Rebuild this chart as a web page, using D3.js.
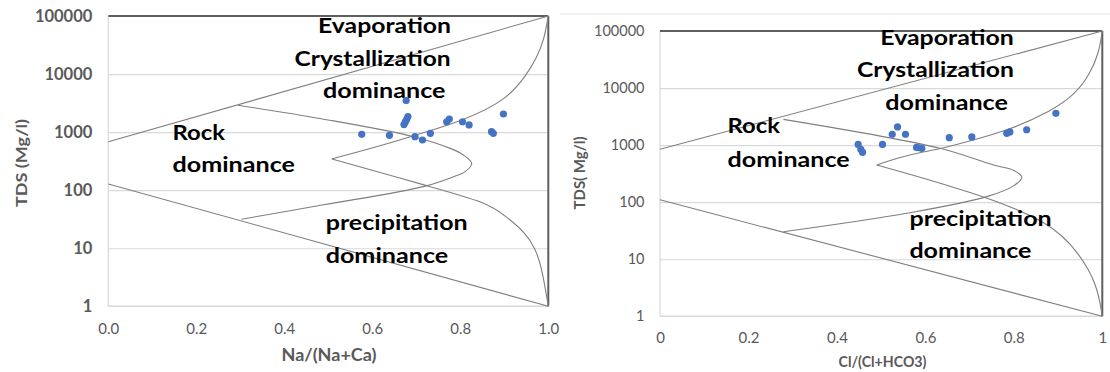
<!DOCTYPE html>
<html>
<head>
<meta charset="utf-8">
<script src="https://cdn.jsdelivr.net/npm/d3@7"></script>
<style>
  body { margin: 0; background: #fff; }
  svg { display: block; font-family: Lato, "Noto Sans", sans-serif; }
  .tick text { fill: #595959; }
  .zone { font-weight: bold; fill: #000; font-size: 21.5px; }
</style>
</head>
<body>
<script>
// gibbs plots, two panels side by side

var width = 1110;
var height = 372;

// shared tick values
var tdsTicks = [1, 10, 100, 1000, 10000, 100000];
var ratioTicks = [0, 0.2, 0.4, 0.6, 0.8, 1];
var ratioLabelsLeft = ['0.0', '0.2', '0.4', '0.6', '0.8', '1.0'];
var ratioLabelsRight = ['0', '0.2', '0.4', '0.6', '0.8', '1'];

// samples - cation panel
var naRatio = [0.576, 0.639, 0.677, 0.681, 0.678, 0.675, 0.672, 0.697, 0.714, 0.732, 0.769, 0.775, 0.805, 0.82, 0.871, 0.875, 0.898];
var naTds   = [917, 881, 3500, 1850, 1650, 1500, 1350, 834, 731, 955, 1510, 1680, 1510, 1330, 1016, 955, 2050];

// samples - anion panel
var clRatio = [0.448, 0.454, 0.458, 0.503, 0.525, 0.537, 0.555, 0.58, 0.586, 0.592, 0.654, 0.705, 0.784, 0.791, 0.829, 0.895];
var clTds   = [1030, 846, 748, 1030, 1550, 2080, 1550, 912, 900, 880, 1350, 1390, 1610, 1700, 1860, 3610];

// boundary lines, [ratio, tds]
var naUpperLine = [[0, 680], [1, 100000]];
var naLowerLine = [[0, 128], [1, 1]];
var naOuterTop = [[0.508, 345], [0.64, 645], [0.72, 1000], [0.808, 1600], [0.905, 3550], [0.952, 10000], [0.974, 19500], [0.99, 38000], [1, 100000]];
var naOuterBottom = [[0.508, 345], [0.731, 115], [0.86, 62], [0.905, 35], [0.95, 17.8], [0.97, 10], [0.985, 4.8], [1, 1]];
var naInner = [[0.295, 2900], [0.484, 1700], [0.694, 834], [0.777, 525], [0.807, 404], [0.826, 288], [0.811, 209], [0.784, 170], [0.716, 115], [0.489, 56], [0.303, 31.6]];

var clUpperLine = [[0, 845], [1, 100000]];
var clLowerLine = [[0, 110], [1, 1]];
var clOuterTop = [[0.49, 450], [0.558, 671], [0.643, 880], [0.708, 1230], [0.79, 1850], [0.884, 3900], [0.94, 7900], [0.972, 17800], [0.992, 40000], [1, 100000]];
var clOuterBottom = [[0.49, 450], [0.708, 150], [0.884, 45], [0.948, 12.6], [0.988, 3.7], [1, 1]];
var clInner = [[0.279, 2830], [0.633, 880], [0.754, 447], [0.8, 360], [0.818, 273], [0.8, 195], [0.739, 125], [0.558, 64], [0.279, 30.4]];

var svg = d3.select('body').append('svg')
  .attr('width', width)
  .attr('height', height);

// thin rule above the right panel
svg.append('line')
  .attr('x1', 560).attr('x2', width)
  .attr('y1', 14).attr('y2', 14)
  .style('stroke', '#ececec').style('stroke-width', 1.5);

var drawPanel = function(p) {
  var x = d3.scaleLinear().domain([0, 1]).range([p.left, p.right]);
  var y = d3.scaleLog().domain([1, 100000]).range([p.bottom, p.top]);
  var g = svg.append('g');

  // gridlines
  g.append('g')
    .attr('transform', 'translate(' + p.left + ',0)')
    .call(d3.axisLeft(y).tickValues(tdsTicks.slice(1, 5)).tickSize(-(p.right - p.left)).tickFormat(''))
    .call(function(s) { s.select('.domain').remove(); })
    .selectAll('line').style('stroke', '#d9d9d9').style('stroke-width', 1.2);

  // frame: light left/bottom, dark top/right
  g.append('line').attr('x1', p.left).attr('x2', p.left).attr('y1', p.top).attr('y2', p.bottom)
    .style('stroke', '#d9d9d9').style('stroke-width', 1.2);
  g.append('line').attr('x1', p.left).attr('x2', p.right).attr('y1', p.bottom).attr('y2', p.bottom)
    .style('stroke', '#d9d9d9').style('stroke-width', 1.5);
  g.append('line').attr('x1', p.left).attr('x2', p.right).attr('y1', p.top).attr('y2', p.top)
    .style('stroke', '#5f5f5f').style('stroke-width', 2);
  g.append('line').attr('x1', p.right).attr('x2', p.right).attr('y1', p.top).attr('y2', p.bottom)
    .style('stroke', '#5f5f5f').style('stroke-width', 2);

  // y axis labels
  var ya = g.append('g')
    .attr('transform', 'translate(' + p.left + ',0)')
    .call(d3.axisLeft(y).tickValues(tdsTicks).tickSize(0).tickPadding(p.yPad).tickFormat(d3.format('d')));
  ya.select('.domain').remove();
  ya.selectAll('text').style('font-size', p.yFont + 'px').style('font-weight', p.yWeight).style('font-family', 'Lato, sans-serif');

  // x axis labels
  var xa = g.append('g')
    .attr('transform', 'translate(0,' + p.bottom + ')')
    .call(d3.axisBottom(x).tickValues(ratioTicks).tickSize(0).tickPadding(p.xPad)
      .tickFormat(function(d, i) { return p.xLabels[i]; }));
  xa.select('.domain').remove();
  xa.selectAll('text').style('font-size', '15px').style('font-family', 'Lato, sans-serif');

  // boundary curves: straight lines, smooth outer curve, looped inner curve
  var smooth = d3.line()
    .x(function(d) { return x(d[0]); })
    .y(function(d) { return y(d[1]); })
    .curve(d3.curveBasis);
  var loop = d3.line()
    .x(function(d) { return x(d[0]); })
    .y(function(d) { return y(d[1]); })
    .curve(d3.curveCatmullRom.alpha(0.5));
  p.curves.forEach(function(c) {
    g.append('path').attr('d', smooth(c))
      .style('fill', 'none').style('stroke', '#7f7f7f').style('stroke-width', 1.1);
  });
  g.append('path').attr('d', loop(p.inner))
    .style('fill', 'none').style('stroke', '#7f7f7f').style('stroke-width', 1.1);

  // zone labels
  p.zones.forEach(function(z) {
    g.append('text').attr('class', 'zone')
      .attr('x', z[1]).attr('y', z[2])
      .attr('textLength', z[3]).attr('lengthAdjust', 'spacingAndGlyphs')
      .text(z[0]);
  });

  // samples
  var pts = p.xs.map(function(v, i) { return { id: i, r: v, tds: p.ys[i] }; });
  g.selectAll('circle.sample').data(pts, function(d) { return d.id; })
    .enter().append('circle')
    .attr('class', 'sample')
    .attr('cx', function(d) { return x(d.r); })
    .attr('cy', function(d) { return y(d.tds); })
    .attr('r', 3.6)
    .style('fill', '#4472c4');

  // titles
  g.append('text')
    .attr('transform', 'translate(' + p.yTitle[0] + ',' + p.yTitle[1] + ') rotate(-90)')
    .attr('text-anchor', 'middle').attr('dy', '0.35em')
    .attr('textLength', p.yTitle[2]).attr('lengthAdjust', 'spacingAndGlyphs')
    .style('font-size', p.yTitleFont + 'px').style('font-weight', 'bold').style('fill', '#595959')
    .text(p.yTitleText);
  g.append('text')
    .attr('x', p.xTitle[0]).attr('y', p.xTitle[1])
    .attr('text-anchor', 'middle').attr('dy', '0.35em')
    .attr('textLength', p.xTitle[2]).attr('lengthAdjust', 'spacingAndGlyphs')
    .style('font-size', p.xTitleFont + 'px').style('font-weight', 'bold').style('fill', '#595959')
    .text(p.xTitleText);
};

drawPanel({
  left: 108.3, right: 548.3, top: 16, bottom: 306.3,
  yPad: 16, yFont: 16.5, yWeight: 'bold', xPad: 17, xLabels: ratioLabelsLeft,
  xs: naRatio, ys: naTds,
  curves: [naUpperLine, naLowerLine, naOuterTop, naOuterBottom], inner: naInner,
  zones: [['Evaporation', 318, 33, 133], ['Crystallization', 294.6, 66, 156], ['dominance', 323, 97.7, 122.5],
          ['Rock', 172.5, 140, 52.5], ['dominance', 172.5, 172, 122.5],
          ['precipitation', 325.7, 230, 142], ['dominance', 325.7, 263, 122.5]],
  yTitle: [21, 163, 88], yTitleText: 'TDS (Mg/l)', yTitleFont: 16,
  xTitle: [329, 355, 95], xTitleText: 'Na/(Na+Ca)', xTitleFont: 16.5
});

drawPanel({
  left: 660, right: 1102.3, top: 31, bottom: 316.3,
  yPad: 15.5, yFont: 14.5, yWeight: 'normal', xPad: 16.5, xLabels: ratioLabelsRight,
  xs: clRatio, ys: clTds,
  curves: [clUpperLine, clLowerLine, clOuterTop, clOuterBottom], inner: clInner,
  zones: [['Evaporation', 880.3, 45, 133.6], ['Crystallization', 856.9, 77.3, 157], ['dominance', 885.3, 110, 122.6],
          ['Rock', 727.6, 133.3, 52.4], ['dominance', 727.6, 166.7, 122],
          ['precipitation', 909.4, 226, 142.4], ['dominance', 909.4, 258.3, 122]],
  yTitle: [580, 173, 73], yTitleText: 'TDS( Mg/l)', yTitleFont: 14.5,
  xTitle: [882.5, 361.5, 88], xTitleText: 'Cl/(Cl+HCO3)', xTitleFont: 14.5
});
</script>
</body>
</html>
